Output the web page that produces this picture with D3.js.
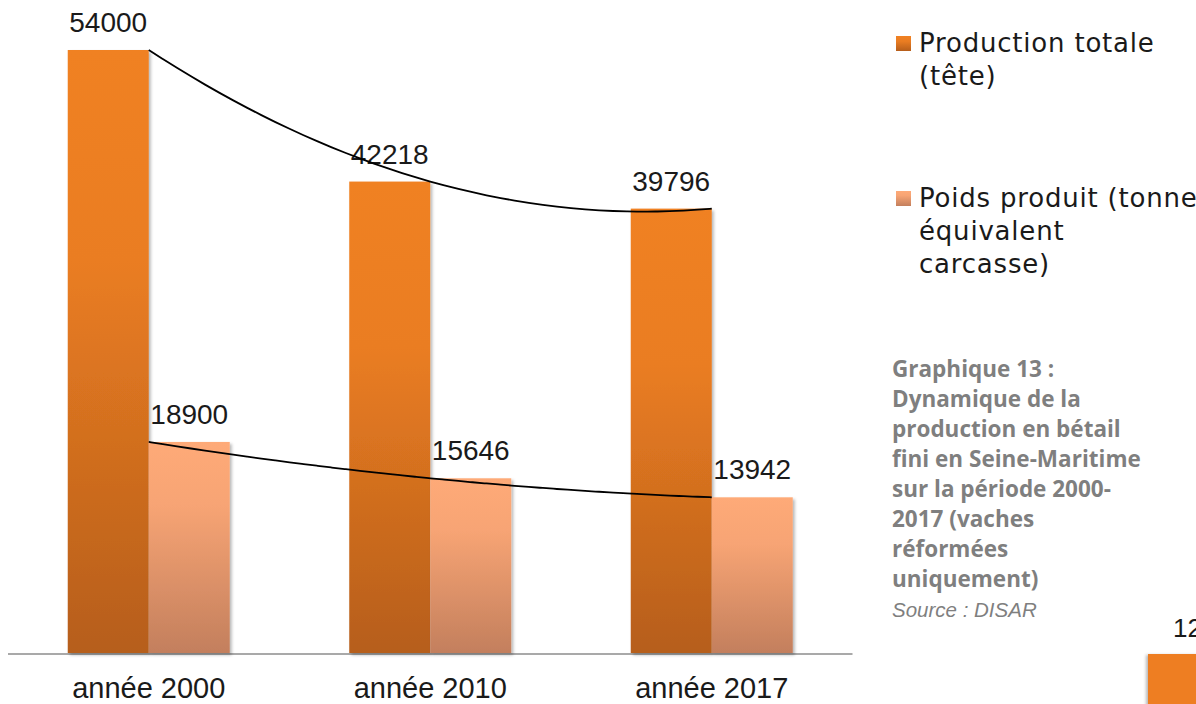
<!DOCTYPE html>
<html>
<head>
<meta charset="utf-8">
<script src="https://cdn.jsdelivr.net/npm/d3@7"></script>
<style>
  html, body { margin: 0; padding: 0; background: #ffffff; }
  svg { display: block; }
</style>
</head>
<body>
<svg id="chart" width="1196" height="704"></svg>
<script>
// Categories and series
const categories = ["année 2000", "année 2010", "année 2017"];
const seriesNames = ["Production totale (tête)", "Poids produit (tonne équivalent carcasse)"];
const productionTotale = [54000, 42218, 39796];
const poidsProduit = [18900, 15646, 13942];
const legendLines = [["Production totale", "(tête)"], ["Poids produit (tonne", "équivalent", "carcasse)"]];
const captionLines = ["Graphique 13 :", "Dynamique de la", "production en bétail", "fini en Seine-Maritime",
                      "sur la période 2000-", "2017 (vaches", "réformées", "uniquement)"];
const sourceText = "Source : DISAR";
const pageNumber = "12";

const seriesValues = [productionTotale, poidsProduit];

const svg = d3.select("#chart");
const defs = svg.append("defs");

// Vertical gradients for each series
const gradients = [
  { id: "gradDark", stops: [["0%", "#F08122"], ["35%", "#EA7D22"], ["100%", "#B65E1B"]] },
  { id: "gradLight", stops: [["0%", "#FEAA78"], ["30%", "#F7A474"], ["100%", "#C37F5D"]] }
];
gradients.forEach(g => {
  const lg = defs.append("linearGradient").attr("id", g.id)
    .attr("x1", 0).attr("y1", 0).attr("x2", 0).attr("y2", 1);
  g.stops.forEach(s => lg.append("stop").attr("offset", s[0]).attr("stop-color", s[1]));
});

// Soft drop shadow under the bars
const f = defs.append("filter").attr("id", "shadow")
  .attr("x", "-10%").attr("y", "-10%").attr("width", "130%").attr("height", "130%");
f.append("feDropShadow").attr("dx", 2).attr("dy", 2).attr("stdDeviation", 1.6)
  .attr("flood-color", "#000").attr("flood-opacity", 0.28);

const fLeft = defs.append("filter").attr("id", "shadowLeft")
  .attr("x", "-30%").attr("y", "-10%").attr("width", "140%").attr("height", "130%");
fLeft.append("feDropShadow").attr("dx", -2).attr("dy", 1).attr("stdDeviation", 1.6)
  .attr("flood-color", "#000").attr("flood-opacity", 0.28);

// Scales
const plotLeft = 8, plotRight = 852.5, baseY = 653, topY = 50;
const x0 = d3.scaleBand().domain(categories).range([plotLeft, plotRight])
  .paddingInner(0.4245).paddingOuter(0.21225);
const x1 = d3.scaleBand().domain(d3.range(seriesNames.length)).range([0, x0.bandwidth()]);
const y = d3.scaleLinear().domain([0, 54000]).range([baseY, topY]);

// Axis baseline
const xAxis = d3.axisBottom(x0).tickSize(0).tickPadding(0).tickFormat("");
const axisG = svg.append("g").attr("transform", `translate(0,${baseY + 1})`).call(xAxis);
axisG.select(".domain").attr("stroke", "#8C8C8C").attr("stroke-width", 1.6)
  .attr("d", `M${plotLeft},0H${plotRight}`);

// Bars
const barG = svg.append("g");
seriesValues.forEach((vals, si) => {
  barG.selectAll(null).data(vals).enter().append("rect")
    .attr("x", (d, i) => x0(categories[i]) + x1(si))
    .attr("y", d => y(d))
    .attr("width", x1.bandwidth())
    .attr("height", d => baseY - y(d))
    .attr("fill", si === 0 ? "url(#gradDark)" : "url(#gradLight)")
    .attr("filter", "url(#shadow)");
});

// Value labels
seriesValues.forEach((vals, si) => {
  svg.selectAll(null).data(vals).enter().append("text")
    .attr("x", (d, i) => x0(categories[i]) + x1(si) + x1.bandwidth() / 2)
    .attr("y", d => y(d) - 18)
    .attr("text-anchor", "middle")
    .attr("font-family", "'Liberation Sans', Arial, sans-serif")
    .attr("font-size", 28)
    .attr("fill", "#1a1a1a")
    .text(d => d);
});

// Polynomial (order 2) trend lines through each series, at category centres
const centre = i => x0(categories[i]) + x0.bandwidth() / 2;
function quadTrend(vals) {
  // Lagrange form through points at t = 0, 1, 2
  return t => vals[0] * (t - 1) * (t - 2) / 2 - vals[1] * t * (t - 2) + vals[2] * t * (t - 1) / 2;
}
const tSteps = d3.range(0, 2.0001, 0.05);
const trendLine = d3.line()
  .x(p => centre(0) + p.t * x0.step())
  .y(p => y(p.v))
  .curve(d3.curveBasis);
seriesValues.forEach(vals => {
  const fn = quadTrend(vals);
  svg.append("path")
    .datum(tSteps.map(t => ({ t, v: fn(t) })))
    .attr("d", trendLine)
    .attr("fill", "none")
    .attr("stroke", "#000")
    .attr("stroke-width", 1.8);
});

// Category labels
svg.selectAll(null).data(categories).enter().append("text")
  .attr("x", d => x0(d) + x0.bandwidth() / 2)
  .attr("y", 698)
  .attr("text-anchor", "middle")
  .attr("font-family", "'Liberation Sans', Arial, sans-serif")
  .attr("font-size", 29)
  .attr("fill", "#1a1a1a")
  .text(d => d);

// Legend
const legendItems = [
  { fill: "url(#gradDark)", baseline: 52, lines: legendLines[0] },
  { fill: "url(#gradLight)", baseline: 207, lines: legendLines[1] }
];
legendItems.forEach(item => {
  svg.append("rect").attr("x", 896).attr("y", item.baseline - 16)
    .attr("width", 15).attr("height", 15).attr("fill", item.fill);
  const t = svg.append("text")
    .attr("font-family", "'DejaVu Sans', sans-serif")
    .attr("font-size", 26)
    .attr("letter-spacing", 0.8)
    .attr("fill", "#1a1a1a");
  item.lines.forEach((ln, k) => {
    t.append("tspan").attr("x", 919).attr("y", item.baseline + k * 33).text(ln);
  });
});

// Caption
const cap = svg.append("text")
  .attr("font-family", "'Open Sans', sans-serif")
  .attr("font-weight", "bold")
  .attr("font-size", 22.5)
  .attr("fill", "#7F7F7F");
captionLines.forEach((ln, k) => {
  cap.append("tspan").attr("x", 892).attr("y", 377 + k * 30).text(ln);
});
svg.append("text")
  .attr("x", 892).attr("y", 617)
  .attr("font-family", "'Liberation Sans', Arial, sans-serif")
  .attr("font-style", "italic")
  .attr("font-size", 20.5)
  .attr("fill", "#7F7F7F")
  .text(sourceText);

// Page number and corner tab
svg.append("text")
  .attr("x", 1173).attr("y", 637)
  .attr("font-family", "'Liberation Sans', Arial, sans-serif")
  .attr("font-size", 26)
  .attr("fill", "#1a1a1a")
  .text(pageNumber);
svg.append("rect").attr("x", 1148).attr("y", 654).attr("width", 60).attr("height", 60)
  .attr("fill", "#EE7E22").attr("filter", "url(#shadowLeft)");
</script>
</body>
</html>
